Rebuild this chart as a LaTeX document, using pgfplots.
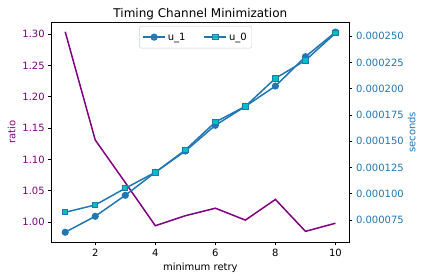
\documentclass[border=0pt]{standalone}
\usepackage{fontspec}
\setmainfont{DejaVu Sans}
\usepackage{pgfplots}
\pgfplotsset{compat=1.18}
\definecolor{mplpurple}{HTML}{800080}
\definecolor{mplblue}{HTML}{1F77B4}
\definecolor{mplcyan}{rgb}{0,0.75,0.75}
\definecolor{legframe}{HTML}{CCCCCC}
\begin{document}
\begin{tikzpicture}
\pgfplotsset{
  common/.style={
    at={(0,0)}, anchor=south west, scale only axis,
    width=297.3pt, height=219.3pt,
    xmin=0.55, xmax=10.45,
    tick align=outside, major tick length=3.5pt,
    /pgf/number format/assume math mode=true,
    tick label style={font=\fontsize{10}{12}\selectfont},
    label style={font=\fontsize{10}{12}\selectfont},
    axis line style={line width=0.8pt},
    every tick/.style={black, line width=0.8pt},
  }
}
\begin{axis}[
  common,
  ymin=0.968, ymax=1.3185,
  xtick={2,4,6,8,10}, ytick={1.00,1.05,1.10,1.15,1.20,1.25,1.30},
  xtick pos=bottom, ytick pos=left,
  yticklabel style={color=mplpurple, /pgf/number format/.cd, fixed, fixed zerofill, precision=2},
  ylabel={ratio},
  ylabel style={color=mplpurple, at={(axis description cs:-0.1345,0.5)}, anchor=center},
  xlabel={minimum retry},
  xlabel style={at={(axis description cs:0.5,-0.1309)}, anchor=base},
  title={Timing Channel Minimization},
  every axis title shift=0pt,
  title style={font=\fontsize{12}{14}\selectfont, at={(axis description cs:0.5,1.0242)}, anchor=base},
]
\addplot[mplpurple, line width=1.5pt, mark=none] coordinates {
  (1,1.304) (2,1.131) (3,1.063) (4,0.994) (5,1.010)
  (6,1.022) (7,1.003) (8,1.036) (9,0.985) (10,0.998)
};
\end{axis}
\begin{axis}[
  common,
  ymin=0.0000540, ymax=0.000263,
  axis x line=none, axis y line*=right,
  ytick={0.000075,0.0001,0.000125,0.00015,0.000175,0.0002,0.000225,0.00025},
  scaled y ticks=false,
  yticklabel style={color=mplblue, /pgf/number format/.cd, fixed, fixed zerofill, precision=6},
  ylabel={seconds},
  ylabel style={color=mplblue, at={(axis description cs:1.2109,0.5)}, anchor=center},
  legend columns=2,
  legend style={at={(axis description cs:0.484,0.985)}, anchor=north,
    draw=legframe, rounded corners=2pt, fill=white, fill opacity=0.8, text opacity=1,
    font=\fontsize{10}{12}\selectfont, inner xsep=3pt, inner ysep=4.5pt,
    /tikz/every even column/.append style={column sep=16pt}},
  legend image code/.code={\draw[mark repeat=2, mark phase=2] plot coordinates {(0pt,0pt) (11pt,0pt) (22pt,0pt)};},
]
\addplot[mplblue, line width=1.5pt, mark=*, mark size=2.8pt, mark options={fill=mplblue, draw=mplblue}] coordinates {
  (1,0.0000633) (2,0.0000785) (3,0.0000985) (4,0.0001204) (5,0.0001407)
  (6,0.0001652) (7,0.0001833) (8,0.0002026) (9,0.0002306) (10,0.000254)
};
\addlegendentry{u\_1}
\addplot[mplblue, line width=1.5pt, mark=square*, mark size=2.7pt, mark options={fill=mplcyan, draw=mplblue, line width=1pt}] coordinates {
  (1,0.0000823) (2,0.0000893) (3,0.0001052) (4,0.0001204) (5,0.0001417)
  (6,0.0001683) (7,0.0001833) (8,0.000210) (9,0.0002271) (10,0.0002531)
};
\addlegendentry{u\_0}
\end{axis}
\pgfresetboundingbox
\path[use as bounding box] (-51.7pt,-38pt) rectangle (372.3pt,242pt);
\end{tikzpicture}
\end{document}
